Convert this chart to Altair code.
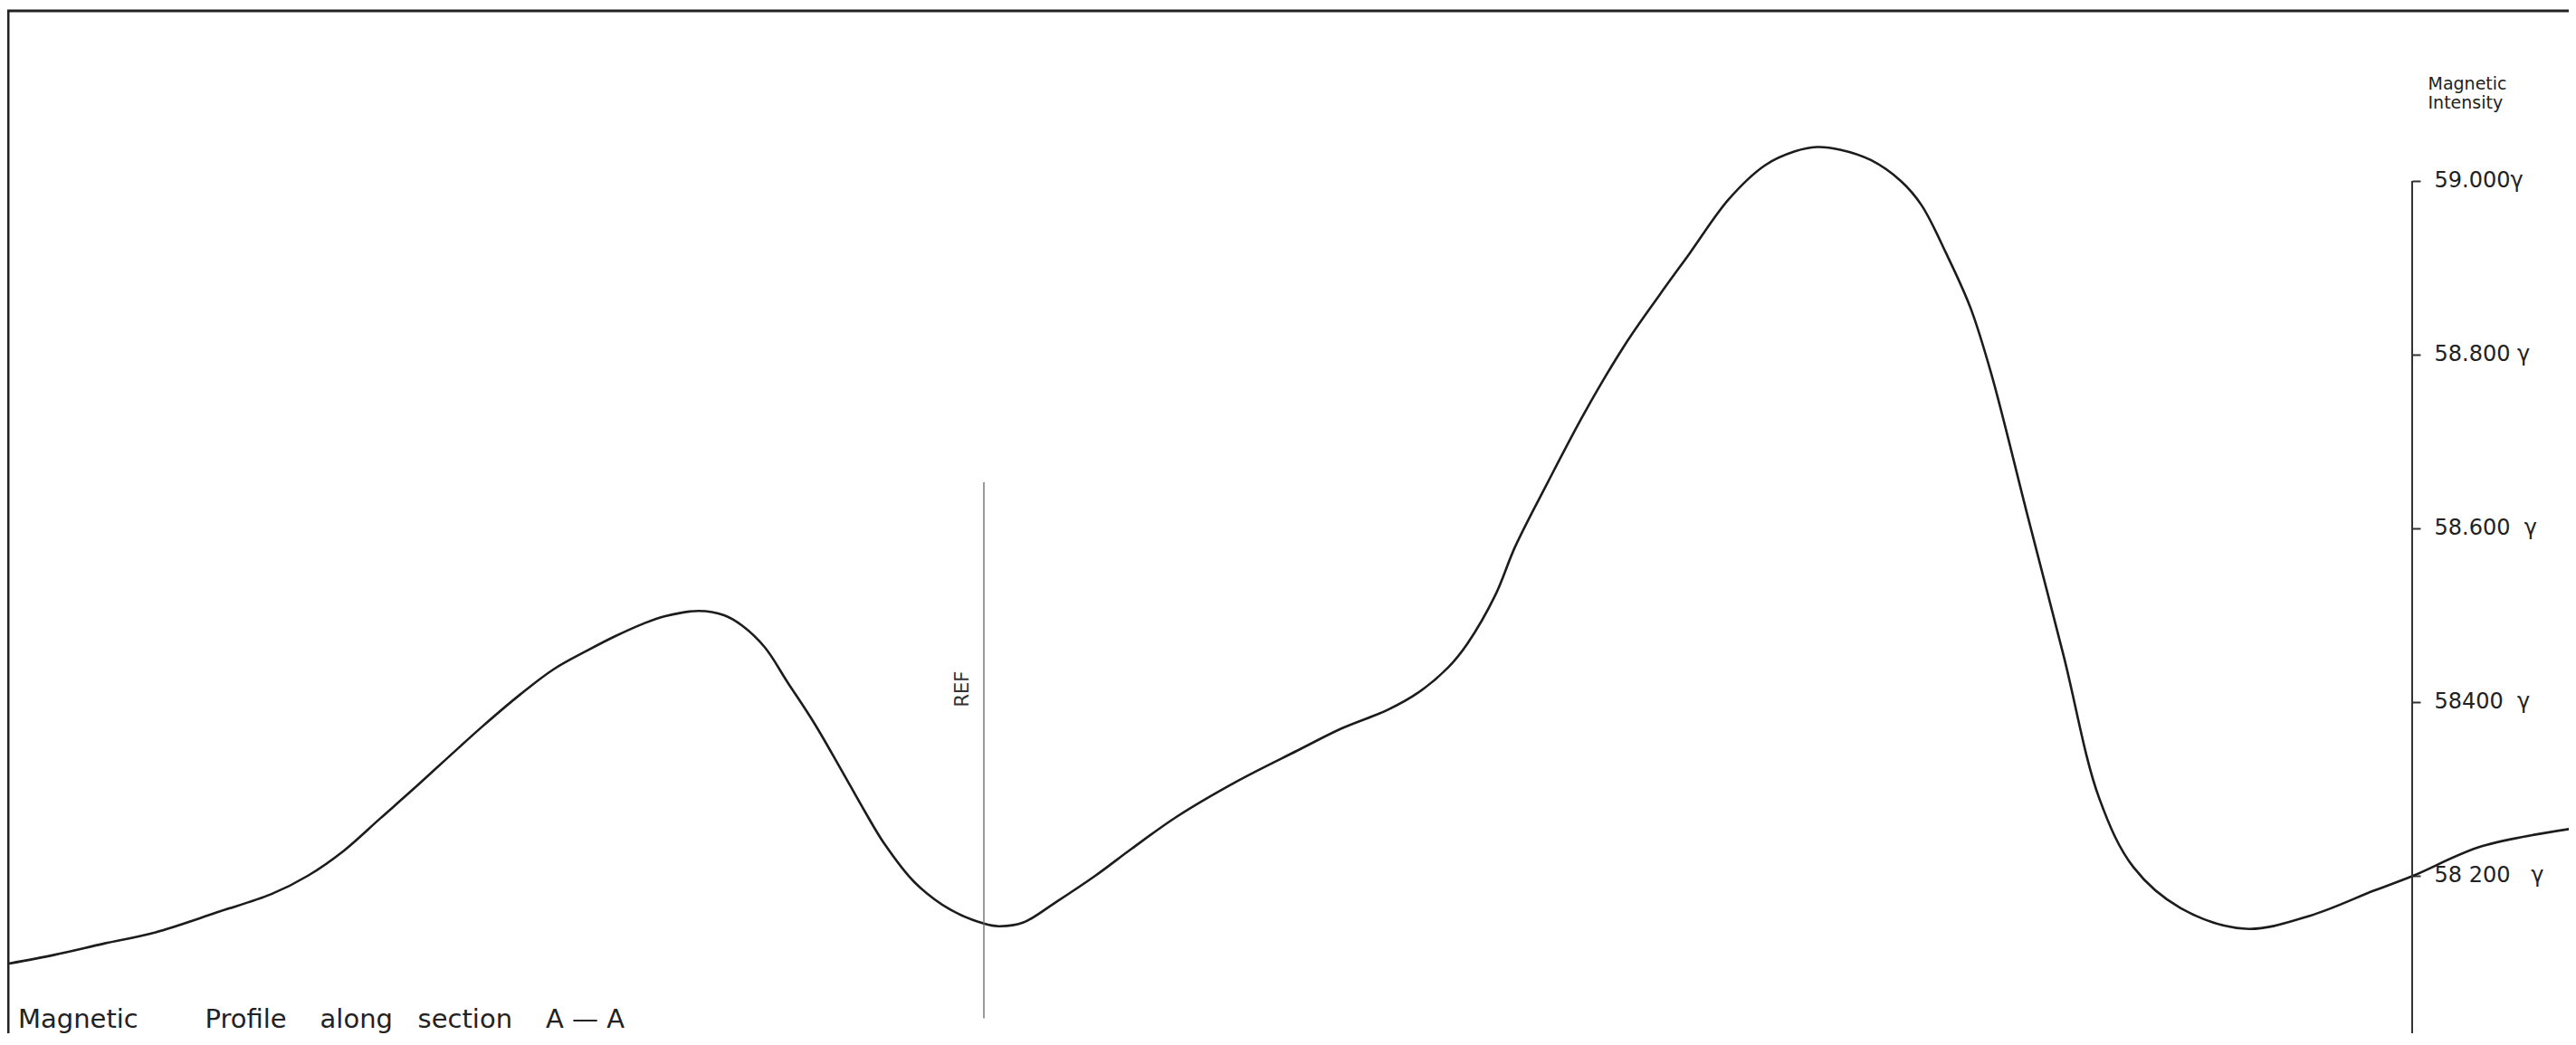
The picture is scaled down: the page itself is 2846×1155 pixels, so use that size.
import altair as alt
import pandas as pd

# distance along section A-A (horizontal units of the drawing)
distance = [10, 60, 115, 172, 240, 300, 340, 380, 420, 459,
            500, 533, 575, 612, 650, 680, 710, 735, 772, 800,
            820, 845, 870, 900, 930, 955, 977, 1010, 1050, 1087,
            1103, 1130, 1167, 1210, 1250, 1300, 1367, 1433, 1483, 1533,
            1567, 1600, 1621, 1652, 1674, 1710, 1750, 1795, 1833, 1867,
            1910, 1950, 1983, 2007, 2033, 2067, 2100, 2123, 2150, 2177,
            2200, 2240, 2280, 2319, 2357, 2409, 2481, 2552, 2623, 2666,
            2742, 2846]
# magnetic intensity (gamma)
intensity = [58099, 58109, 58122, 58135, 58158, 58179, 58200, 58229, 58266, 58302,
             58341, 58372, 58409, 58438, 58460, 58476, 58490, 58499, 58505, 58500,
             58488, 58463, 58423, 58375, 58321, 58275, 58237, 58193, 58161, 58145,
             58142, 58146, 58170, 58200, 58231, 58268, 58309, 58344, 58370, 58391,
             58411, 58440, 58467, 58523, 58579, 58653, 58732, 58811, 58868, 58917,
             58979, 59018, 59034, 59039, 59036, 59024, 59000, 58972, 58917, 58854,
             58778, 58615, 58453, 58290, 58210, 58163, 58139, 58154, 58183, 58200,
             58234, 58255]

tick_values = [58200, 58400, 58600, 58800, 59000]
tick_labels = ["58\u00a0200\u00a0\u00a0\u00a0γ", "58400\u00a0\u00a0γ", "58.600\u00a0\u00a0γ",
               "58.800\u00a0γ", "59.000γ"]
axis_title = ["Magnetic", "Intensity"]
NB = "\u00a0"
caption = ("Magnetic" + NB * 8 + "Profile" + NB * 4 + "along" + NB * 3 +
           "section" + NB * 4 + "A" + NB + "—" + NB + "A")

ref_label = "REF"
ref_position = 1087
ref_top, ref_bottom = 58653, 58036
axis_position = 2665

x_domain = [8, 2838]
y_domain = [58018.75, 59195.83]

df = pd.DataFrame({"distance": distance, "intensity": intensity})
one = pd.DataFrame({"k": [0]})

xs = alt.Scale(domain=x_domain, nice=False, zero=False)
ys = alt.Scale(domain=y_domain, nice=False, zero=False)

label_expr = "".join(f"datum.value == {v} ? '{l}' : " for v, l in zip(tick_values, tick_labels)) + "''"

FONT = "DejaVu Sans"
INK = "#222222"

yaxis = alt.Axis(
    orient="right", offset=axis_position - x_domain[1], domain=False, grid=False,
    values=tick_values, labelExpr=label_expr, labelFont=FONT, labelFontSize=24,
    labelColor=INK, labelPadding=15, labelFlush=False, labelOverlap=False,
    ticks=True, tickSize=9, tickWidth=2, tickColor="#333333",
    title=axis_title, titleAngle=0, titleAlign="left", titleBaseline="top",
    titleX=17, titleY=71, titleFont=FONT, titleFontSize=19, titleFontWeight="normal",
    titleColor=INK, titleLineHeight=21,
)

line = alt.Chart(df).mark_line(interpolate="catmull-rom", color="#1c1c1c", strokeWidth=2.6).encode(
    x=alt.X("distance:Q", scale=xs, axis=None),
    y=alt.Y("intensity:Q", scale=ys, axis=yaxis),
)

# frame of the drawing (top and left edges)
top_edge = alt.Chart(one).mark_rule(color=INK, strokeWidth=3).encode(
    x=alt.datum(x_domain[0]), x2=alt.datum(x_domain[1]), y=alt.datum(y_domain[1])
)
left_edge = alt.Chart(one).mark_rule(color=INK, strokeWidth=3).encode(
    x=alt.datum(x_domain[0] + 1), y=alt.datum(y_domain[1]), y2=alt.datum(y_domain[0])
)

axis_rule = alt.Chart(one).mark_rule(color="#333333", strokeWidth=2).encode(
    x=alt.datum(axis_position), y=alt.datum(tick_values[-1]), y2=alt.datum(y_domain[0])
)

ref_rule = alt.Chart(one).mark_rule(color="#666666", strokeWidth=1.3).encode(
    x=alt.datum(ref_position), y=alt.datum(ref_top), y2=alt.datum(ref_bottom)
)

ref_text = alt.Chart(one).mark_text(
    angle=270, font=FONT, fontSize=21, color="#333333", align="center", baseline="middle"
).encode(x=alt.datum(1064), y=alt.datum(58415), text=alt.value(ref_label))

caption_text = alt.Chart(one).mark_text(
    align="left", baseline="alphabetic", font=FONT, fontSize=29, color=INK
).encode(x=alt.datum(20), y=alt.datum(58025), text=alt.value(caption))

chart = alt.layer(line, top_edge, left_edge, axis_rule, ref_rule, ref_text, caption_text).properties(
    width=2830, height=1130,
    autosize=alt.AutoSizeParams(type="none"),
    padding={"left": 0, "top": 4, "right": 0, "bottom": 0},
    background="white",
).configure_view(strokeWidth=0)

chart.save("out.html", embed_options={"renderer": "svg", "actions": False})
